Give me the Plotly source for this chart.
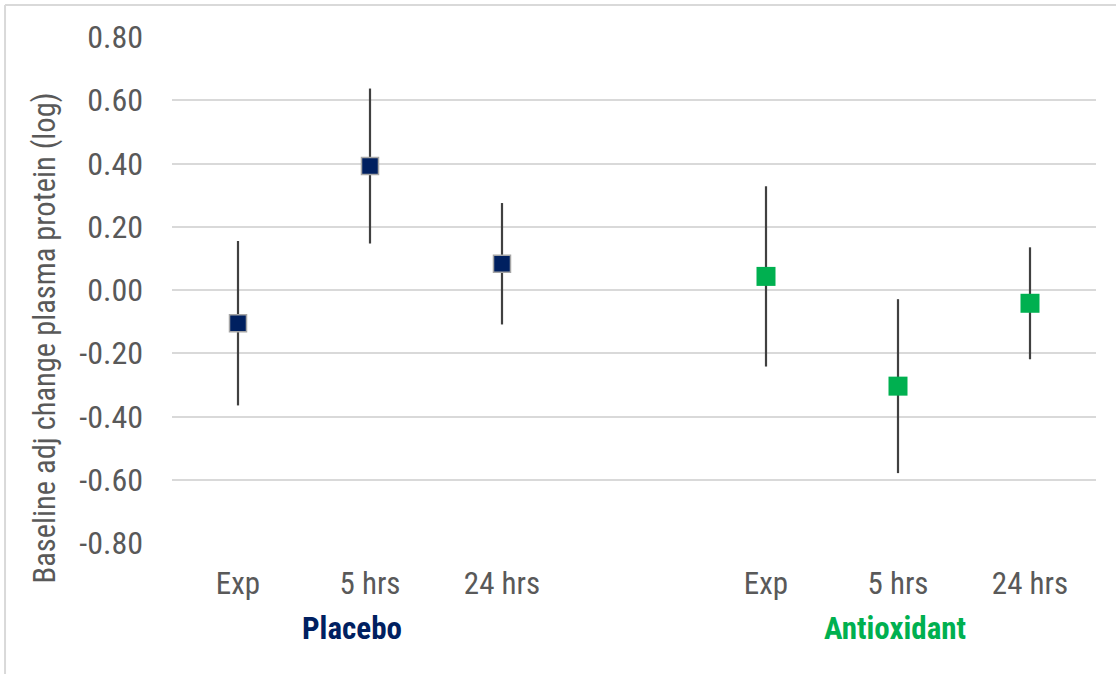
import plotly.graph_objects as go

# Time points within each treatment group
time_points = ["Exp", "5 hrs", "24 hrs"]
groups = ["Placebo", "Antioxidant"]

# Baseline-adjusted change in plasma protein (log) and error half-widths
placebo_mean = [-0.105, 0.392, 0.083]
placebo_err = [0.260, 0.245, 0.192]
antiox_mean = [0.043, -0.304, -0.042]
antiox_err = [0.285, 0.275, 0.177]

y_ticks = [-0.8, -0.6, -0.4, -0.2, 0.0, 0.2, 0.4, 0.6, 0.8]

# Category slots: three for each group with an empty slot between them
placebo_x = [0, 1, 2]
antiox_x = [4, 5, 6]

FONT = "Liberation Sans Narrow, Arial Narrow, Roboto Condensed, Arial, sans-serif"
NAVY = "#002060"
GREEN = "#00B050"
TICK_GREY = "#595959"
GRID = "#D9D9D9"
ERR = "#404040"

fig = go.Figure()

fig.add_trace(go.Scatter(
    x=placebo_x, y=placebo_mean, mode="markers", name=groups[0],
    marker=dict(symbol="square", size=17, color=NAVY,
                line=dict(color="#A6A6A6", width=1.5)),
    error_y=dict(type="data", array=placebo_err, visible=True,
                 color=ERR, thickness=2.2, width=0),
))
fig.add_trace(go.Scatter(
    x=antiox_x, y=antiox_mean, mode="markers", name=groups[1],
    marker=dict(symbol="square", size=19, color=GREEN, line=dict(width=0)),
    error_y=dict(type="data", array=antiox_err, visible=True,
                 color=ERR, thickness=2.2, width=0),
))

fig.update_xaxes(
    range=[-0.5, 6.5],
    tickmode="array",
    tickvals=placebo_x + antiox_x,
    ticktext=time_points + time_points,
    showgrid=False, zeroline=False, showline=False, ticks="",
    ticklabelstandoff=19,
    tickfont=dict(family=FONT, size=31, color=TICK_GREY),
)
fig.update_yaxes(
    range=[-0.8, 0.8],
    tickmode="array",
    tickvals=y_ticks,
    ticktext=[f"{v:.2f}" for v in y_ticks],
    showgrid=True, gridcolor=GRID, gridwidth=1.5,
    zeroline=False, showline=False, ticks="",
    ticklabelstandoff=28,
    tickfont=dict(family=FONT, size=32, color=TICK_GREY),
)

# Group labels beneath the time-point labels
fig.add_annotation(x=0.86, y=-0.168, xref="x", yref="paper", text="<b>Placebo</b>",
                   xanchor="center", yanchor="middle",
                   showarrow=False, font=dict(family=FONT, size=31, color=NAVY))
fig.add_annotation(x=4.98, y=-0.168, xref="x", yref="paper", text="<b>Antioxidant</b>",
                   xanchor="center", yanchor="middle",
                   showarrow=False, font=dict(family=FONT, size=31, color=GREEN))

# Rotated y-axis title
fig.add_annotation(x=-0.137, y=0.405, xref="paper", yref="paper",
                   text="Baseline adj change plasma protein (log)", textangle=-90,
                   xanchor="center", yanchor="middle",
                   showarrow=False, font=dict(family=FONT, size=30.5, color=TICK_GREY))

# Chart frame along the top and left edges
fig.add_shape(type="line", xref="paper", yref="paper", x0=-0.1807, x1=1.03,
              y0=1.0632, y1=1.0632, line=dict(color=GRID, width=2))
fig.add_shape(type="line", xref="paper", yref="paper", x0=-0.1807, x1=-0.1807,
              y0=1.0632, y1=-0.3, line=dict(color=GRID, width=2))

fig.update_layout(
    width=1116, height=674,
    margin=dict(l=172, r=20, t=37, b=131),
    paper_bgcolor="white", plot_bgcolor="white",
    showlegend=False,
    font=dict(family=FONT, color=TICK_GREY),
)

fig.write_html("out.html")
